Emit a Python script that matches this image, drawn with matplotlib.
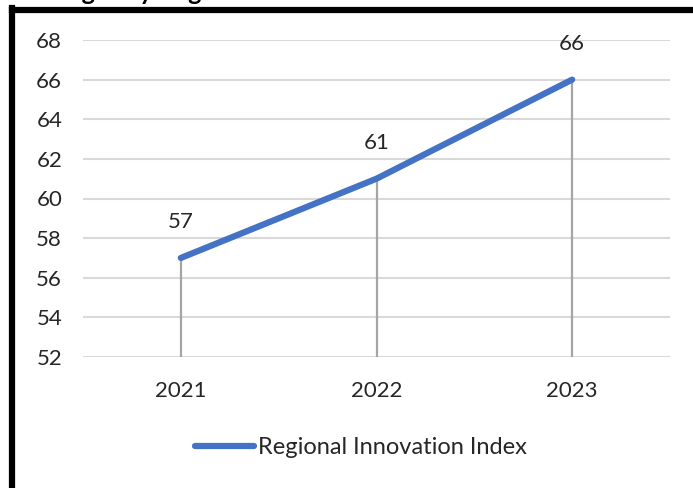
import matplotlib
matplotlib.use("Agg")
import matplotlib.pyplot as plt
from matplotlib.lines import Line2D

years = ["2021", "2022", "2023"]
values = [57, 61, 66]
series_name = "Regional Innovation Index"
yticks = [52, 54, 56, 58, 60, 62, 64, 66, 68]
title_text = "Changes by Region"

plt.rcParams['font.family'] = ['Lato', 'DejaVu Sans']

W, H = 693, 488
fig = plt.figure(figsize=(W / 100, H / 100), dpi=100)
fig.patch.set_facecolor("white")

ax = fig.add_axes([83 / W, 1 - 357 / H, (670 - 83) / W, (357 - 40) / H])
x = list(range(len(years)))
line_color = "#4472C4"

ax.set_xlim(-0.5, len(years) - 0.5)
ax.set_ylim(yticks[0], yticks[-1])
ax.set_yticks(yticks)
ax.set_xticks(x)
ax.set_xticklabels(years)
ax.grid(axis="y", color="#D9D9D9", linewidth=1.5)
ax.set_axisbelow(True)
for s in ax.spines.values():
    s.set_visible(False)
ax.tick_params(axis="both", length=0, labelsize=16, colors="#262626")
ax.tick_params(axis="y", pad=15)
ax.tick_params(axis="x", pad=17)

# drop lines
ax.vlines(x, yticks[0], values, colors="#A5A5A5", linewidth=1.6, zorder=2)
ax.plot(x, values, color=line_color, linewidth=4.5, solid_capstyle="round",
        label=series_name, zorder=3)
for xi, v in zip(x, values):
    ax.annotate(str(v), (xi, v), xytext=(0, 26), textcoords="offset points",
                ha="center", va="center", fontsize=16, color="#262626")

fig.legend(handles=[Line2D([0], [0], color=line_color, linewidth=4.5,
                           solid_capstyle="round")],
           labels=[series_name], loc="center",
           bbox_to_anchor=(361 / W, 1 - 448 / H), frameon=False,
           fontsize=17, handlelength=2.5, handletextpad=0.2,
           labelcolor="#262626")

# outer border (partially cropped chart frame)
fig.add_artist(Line2D([12.5 / W, 12.5 / W], [0, 1 - 8 / H], color="black",
                      linewidth=4.5, transform=fig.transFigure,
                      solid_capstyle="projecting"))
fig.add_artist(Line2D([12.5 / W, 1], [1 - 10 / H, 1 - 10 / H], color="black",
                      linewidth=4.5, transform=fig.transFigure,
                      solid_capstyle="projecting"))

# cropped title (only descenders visible)
fig.text(24 / W, 1 - 0.5 / H, title_text, fontsize=18, fontweight="bold",
         ha="left", va="baseline", color="black")

fig.savefig("out.png", dpi=100)
